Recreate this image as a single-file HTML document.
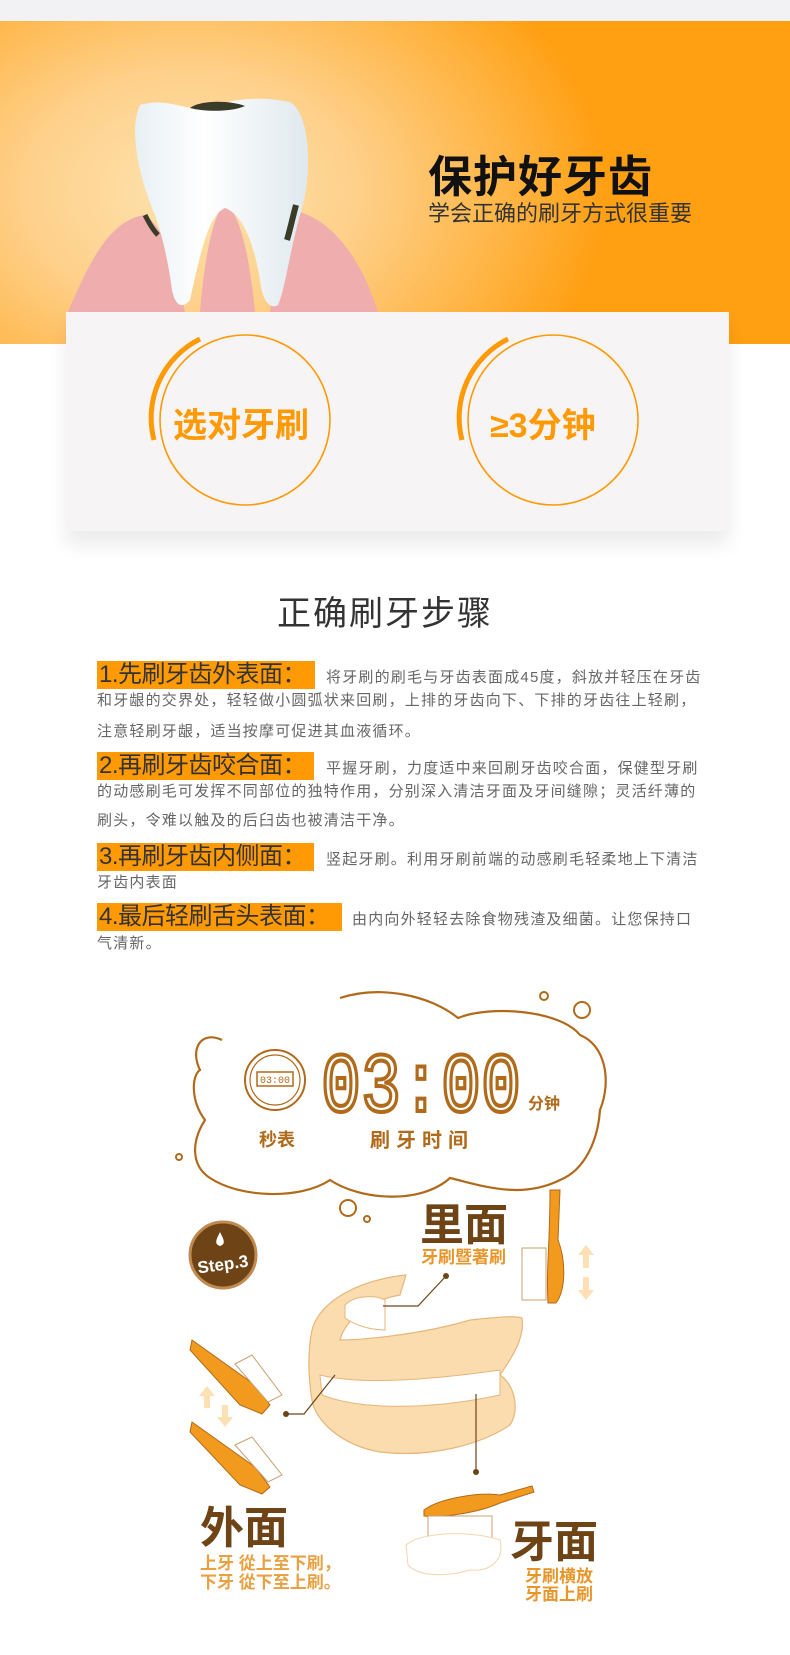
<!DOCTYPE html>
<html><head><meta charset="utf-8">
<style>
*{margin:0;padding:0;box-sizing:border-box}
body{width:790px;height:1655px;background:#fff;position:relative;overflow:hidden;font-family:"Liberation Sans","Noto Sans CJK SC",sans-serif}
.abs{position:absolute}
.step-label{position:absolute;left:97px;background:#ff9a05;color:#333;font-size:24px;line-height:28px;height:28px;padding-left:2px;white-space:nowrap;letter-spacing:-0.5px}
.body{position:absolute;color:#666;font-size:15px;letter-spacing:1.2px;white-space:nowrap;line-height:16px}
</style></head><body>
<div class="abs" style="left:0;top:0;width:790px;height:21px;background:#f2f2f4"></div>
<div class="abs" style="left:0;top:21px;width:790px;height:323px;background:radial-gradient(ellipse 420px 300px at 190px 170px,#fde3b0 0%,#fed08a 40%,#ffb545 75%,#ff9f12 100%)"></div>
<svg class="abs" style="left:0;top:0" width="400" height="330" viewBox="0 0 400 330">
 <defs><linearGradient id="tg" x1="0" x2="1"><stop offset="0" stop-color="#e8f0f4"/><stop offset=".4" stop-color="#fff"/><stop offset="1" stop-color="#dfe9ee"/></linearGradient></defs>
 <path d="M68 312 C90 260 110 220 145 215 C165 230 175 260 185 312 Z" fill="#efadae"/>
 <path d="M200 312 C205 250 215 210 225 205 C240 210 250 260 255 312 Z" fill="#efadae"/>
 <path d="M270 312 C280 250 285 215 300 212 C340 225 365 270 378 312 Z" fill="#efadae"/>
 <path d="M140 105 C165 98 180 108 195 108 C215 108 240 92 290 102 C312 115 312 180 300 215 C290 250 285 290 278 305 C270 310 262 300 260 280 C255 250 245 215 225 208 C208 215 200 255 190 300 C182 310 175 305 172 290 C168 260 162 235 155 215 C140 180 128 130 140 105 Z" fill="url(#tg)"/>
 <path d="M190 108 C200 100 230 100 245 106 C232 112 205 112 190 108Z" fill="#3b3b2a"/>
 <path d="M145 215 C150 225 155 232 158 235" stroke="#3b3b2a" stroke-width="5" fill="none"/>
 <path d="M296 205 C292 220 290 230 287 240" stroke="#3b3b2a" stroke-width="6" fill="none"/>
</svg>
<div class="abs" style="left:428px;top:141px;font-size:44px;font-weight:bold;color:#111;letter-spacing:1px;white-space:nowrap">保护好牙齿</div>
<div class="abs" style="left:428px;top:196px;font-size:22px;color:#333;white-space:nowrap;letter-spacing:0px">学会正确的刷牙方式很重要</div>
<div class="abs" style="left:66px;top:312px;width:663px;height:219px;background:#f6f4f4;box-shadow:0 14px 18px rgba(0,0,0,0.08)"></div>
<svg class="abs" style="left:0;top:312px" width="790" height="219">
 <circle cx="245" cy="108" r="85" fill="none" stroke="#ff9a05" stroke-width="1.6"/>
 <path d="M200 27 A88 88 0 0 0 154 128" fill="none" stroke="#ff9a05" stroke-width="5"/>
 <circle cx="553" cy="108" r="85" fill="none" stroke="#ff9a05" stroke-width="1.6"/>
 <path d="M508 27 A88 88 0 0 0 462 128" fill="none" stroke="#ff9a05" stroke-width="5"/>
</svg>
<div class="abs" style="left:173px;top:398px;font-size:34px;font-weight:bold;color:#ff9a05;white-space:nowrap">选对牙刷</div>
<div class="abs" style="left:490px;top:398px;font-size:34px;font-weight:bold;color:#ff9a05;white-space:nowrap">≥3分钟</div>

<div class="abs" style="left:-10px;width:790px;top:586px;text-align:center;font-size:34px;color:#333;letter-spacing:2px">正确刷牙步骤</div>

<div class="step-label" style="top:661px;width:218px">1.先刷牙齿外表面：</div>
<div class="body" style="left:326px;top:670px">将牙刷的刷毛与牙齿表面成45度，斜放并轻压在牙齿</div>
<div class="body" style="left:97px;top:693px">和牙龈的交界处，轻轻做小圆弧状来回刷，上排的牙齿向下、下排的牙齿往上轻刷，</div>
<div class="body" style="left:97px;top:724px">注意轻刷牙龈，适当按摩可促进其血液循环。</div>

<div class="step-label" style="top:752px;width:217px">2.再刷牙齿咬合面：</div>
<div class="body" style="left:326px;top:761px">平握牙刷，力度适中来回刷牙齿咬合面，保健型牙刷</div>
<div class="body" style="left:97px;top:784px">的动感刷毛可发挥不同部位的独特作用，分别深入清洁牙面及牙间缝隙；灵活纤薄的</div>
<div class="body" style="left:97px;top:813px">刷头，令难以触及的后臼齿也被清洁干净。</div>

<div class="step-label" style="top:843px;width:217px">3.再刷牙齿内侧面：</div>
<div class="body" style="left:326px;top:852px">竖起牙刷。利用牙刷前端的动感刷毛轻柔地上下清洁</div>
<div class="body" style="left:97px;top:875px">牙齿内表面</div>

<div class="step-label" style="top:903px;width:245px">4.最后轻刷舌头表面：</div>
<div class="body" style="left:352px;top:912px">由内向外轻轻去除食物残渣及细菌。让您保持口</div>
<div class="body" style="left:97px;top:936px">气清新。</div>

<svg class="abs" style="left:0;top:960px" width="790" height="695" viewBox="0 960 790 695">
 <path d="M340 998 C380 985 430 995 458 1018 C490 1005 560 1010 580 1035 C605 1045 612 1080 600 1110 C598 1140 585 1170 560 1180 C520 1200 480 1185 450 1178 C420 1205 360 1200 330 1180 C300 1200 240 1198 210 1178 C190 1165 192 1140 205 1120 C190 1100 192 1075 200 1070 C190 1050 200 1030 222 1040" fill="none" stroke="#b06a1a" stroke-width="2.2"/>
 <circle cx="544" cy="996" r="4" fill="none" stroke="#b06a1a" stroke-width="2"/>
 <circle cx="582" cy="1010" r="8" fill="none" stroke="#b06a1a" stroke-width="2"/>
 <circle cx="179" cy="1157" r="3" fill="none" stroke="#b06a1a" stroke-width="2"/>
 <circle cx="348" cy="1208" r="8" fill="none" stroke="#b06a1a" stroke-width="2"/>
 <circle cx="367" cy="1219" r="3" fill="none" stroke="#b06a1a" stroke-width="2"/>
 <circle cx="275" cy="1080" r="30" fill="#fff" stroke="#b06a1a" stroke-width="2"/>
 <circle cx="275" cy="1080" r="25" fill="none" stroke="#b06a1a" stroke-width="1.2"/>
 <rect x="257" y="1072" width="36" height="14" fill="none" stroke="#b06a1a" stroke-width="1.5"/>
 <text x="275" y="1083" font-size="10" fill="#b06a1a" text-anchor="middle" font-family="Liberation Mono,monospace">03:00</text>
 <text x="321" y="1111" font-size="84" fill="none" stroke="#b06a1a" stroke-width="4" textLength="200" lengthAdjust="spacingAndGlyphs" font-family="Liberation Mono,monospace">03:00</text>
 <text x="528" y="1109" font-size="16" font-weight="bold" fill="#b06a1a" font-family="Liberation Sans,Noto Sans CJK SC,sans-serif">分钟</text>
 <text x="259" y="1146" font-size="18" font-weight="bold" fill="#b06a1a" font-family="Liberation Sans,Noto Sans CJK SC,sans-serif">秒表</text>
 <text x="370" y="1147" font-size="20" font-weight="bold" fill="#b06a1a" letter-spacing="6" font-family="Liberation Sans,Noto Sans CJK SC,sans-serif">刷牙时间</text>
 <g>
  <circle cx="223" cy="1255" r="33" fill="#6e4417" stroke="#c08a50" stroke-width="3"/>
  <path d="M220 1232 C216 1240 214 1244 220 1246 C226 1244 224 1240 220 1232Z" fill="#fff"/>
  <text x="223" y="1270" font-size="17" font-weight="bold" fill="#fff" text-anchor="middle" transform="rotate(-8 223 1265)" font-family="Liberation Sans,sans-serif">Step.3</text>
 </g>
 <g>
  <path d="M312 1330 C320 1300 360 1280 406 1275 L400 1295 C370 1300 345 1320 340 1340 C360 1340 420 1335 470 1320 C490 1318 515 1315 522 1318 C525 1340 510 1360 500 1375 C515 1385 520 1410 510 1425 C480 1445 430 1458 380 1452 C340 1445 315 1420 312 1400 C308 1375 308 1350 312 1330Z" fill="#fbdcae" stroke="#e8b57a" stroke-width="1.2"/>
  <path d="M320 1375 C360 1385 430 1380 500 1370 L500 1395 C430 1410 360 1410 322 1395Z" fill="#fff" stroke="#e8b57a"/>
  <path d="M345 1305 C355 1295 375 1295 385 1300 L385 1330 C370 1330 355 1325 345 1318Z" fill="#fff" stroke="#e8b57a"/>
 </g>
 <g stroke="#6e4417" stroke-width="1.2" fill="none">
  <path d="M446 1276 L418 1306 L383 1306"/>
  <path d="M286 1414 L304 1414 L335 1375"/>
  <path d="M476 1394 L476 1472"/>
 </g>
 <circle cx="446" cy="1276" r="3" fill="#6e4417"/><circle cx="286" cy="1414" r="3" fill="#6e4417"/><circle cx="476" cy="1472" r="3" fill="#6e4417"/>
 <g>
  <path d="M550 1190 L560 1190 L558 1240 C566 1260 566 1290 556 1303 L548 1303 C546 1270 550 1245 550 1190Z" fill="#f29a1e" stroke="#b06a1a"/>
  <rect x="522" y="1248" width="24" height="52" fill="#fff" stroke="#c9a070"/>
 </g>
 <g fill="#fde0b4">
  <path d="M586 1245 L594 1255 L589 1255 L589 1268 L583 1268 L583 1255 L578 1255Z"/>
  <path d="M586 1300 L594 1290 L589 1290 L589 1277 L583 1277 L583 1290 L578 1290Z"/>
 </g>
 <g>
  <path d="M192 1340 L255 1385 L270 1405 L262 1414 L240 1405 L190 1350Z" fill="#f29a1e" stroke="#b06a1a"/>
  <path d="M235 1364 L252 1355 L282 1395 L268 1402Z" fill="#fff" stroke="#c9a070"/>
 </g>
 <g>
  <path d="M192 1422 L255 1467 L270 1487 L262 1494 L240 1485 L190 1432Z" fill="#f29a1e" stroke="#b06a1a"/>
  <path d="M235 1445 L252 1437 L282 1475 L268 1482Z" fill="#fff" stroke="#c9a070"/>
 </g>
 <g fill="#fde0b4">
  <path d="M207 1386 L215 1396 L210 1396 L210 1408 L204 1408 L204 1396 L199 1396Z"/>
  <path d="M225 1427 L233 1417 L228 1417 L228 1405 L222 1405 L222 1417 L217 1417Z"/>
 </g>
 <g>
  <path d="M424 1510 C440 1498 480 1492 500 1495 L532 1486 L534 1492 L500 1503 C480 1512 445 1518 424 1516Z" fill="#f29a1e" stroke="#b06a1a"/>
  <rect x="428" y="1516" width="64" height="22" fill="#fff" stroke="#c9a070"/>
  <path d="M406 1545 C420 1532 470 1530 500 1540 C505 1560 490 1572 470 1570 C450 1576 420 1578 408 1565Z" fill="#fff" stroke="#f3d6ae"/>
 </g>
 <text x="420" y="1240" font-size="44" font-weight="bold" fill="#6e4417" font-family="Liberation Sans,Noto Sans CJK SC,sans-serif">里面</text>
 <text x="421" y="1263" font-size="17" font-weight="bold" fill="#e8952a" font-family="Liberation Sans,Noto Sans CJK SC,sans-serif">牙刷暨著刷</text>
 <text x="200" y="1543" font-size="44" font-weight="bold" fill="#6e4417" font-family="Liberation Sans,Noto Sans CJK SC,sans-serif">外面</text>
 <text x="200" y="1569" font-size="17" font-weight="bold" fill="#e8a040" font-family="Liberation Sans,Noto Sans CJK SC,sans-serif">上牙 從上至下刷，</text>
 <text x="200" y="1588" font-size="17" font-weight="bold" fill="#e8a040" font-family="Liberation Sans,Noto Sans CJK SC,sans-serif">下牙 從下至上刷。</text>
 <text x="510" y="1557" font-size="44" font-weight="bold" fill="#6e4417" font-family="Liberation Sans,Noto Sans CJK SC,sans-serif">牙面</text>
 <text x="525" y="1582" font-size="17" font-weight="bold" fill="#e8952a" font-family="Liberation Sans,Noto Sans CJK SC,sans-serif">牙刷横放</text>
 <text x="525" y="1600" font-size="17" font-weight="bold" fill="#e8952a" font-family="Liberation Sans,Noto Sans CJK SC,sans-serif">牙面上刷</text>
</svg>
</body></html>
